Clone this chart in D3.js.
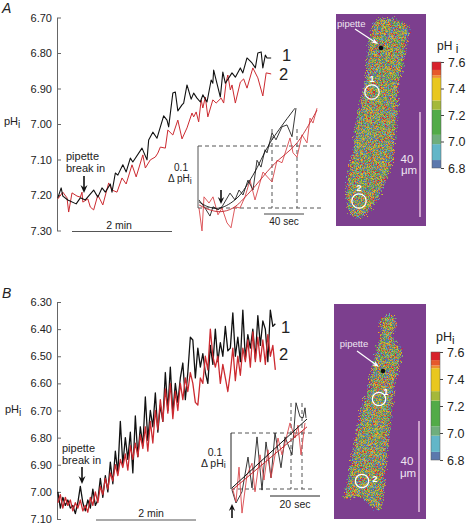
<!DOCTYPE html>
<html><head><meta charset="utf-8">
<script src="https://cdn.jsdelivr.net/npm/d3@7"></script>
<style>html,body{margin:0;padding:0;background:#fff}svg{display:block;font-family:"Liberation Sans",Arial,sans-serif}</style>
</head><body><svg id="c" width="467" height="525"><defs><filter id="soft" x="0" y="0" width="100%" height="100%"><feGaussianBlur stdDeviation="0.45"/></filter></defs></svg>
<script>
// ---------- Panel A data ----------
const ticksA=[6.7,6.8,6.9,7.0,7.1,7.2,7.3];
const ticksB=[6.3,6.4,6.5,6.6,6.7,6.8,6.9,7.0,7.1];
const barTicks=[6.8,7.0,7.2,7.4,7.6];
const tA1=[1,5,7,13,23,28,34,44,49,54,58,64,66,70,73,79,83,88,91,102,108,110,115,120,128,132,134,139,142,145,150,152,156,161,164,168,172,175,180,185,187,188,196,199,202,210,214,220,223,228,234,238,241,245,247,250,252,257];
const phA1=[7.208,7.180,7.203,7.214,7.225,7.208,7.214,7.186,7.206,7.180,7.192,7.169,7.192,7.138,7.144,7.115,7.135,7.096,7.107,7.068,7.101,7.045,7.023,7.040,6.977,6.989,7.008,6.913,6.910,6.963,6.946,6.941,6.890,6.930,6.913,6.927,6.938,6.918,6.938,6.876,6.885,6.848,6.924,6.854,6.885,6.856,6.868,6.842,6.856,6.814,6.828,6.842,6.800,6.797,6.842,6.806,6.814,6.814];
const tA2=[1,7,12,14,18,24,28,30,31,37,40,44,49,55,62,66,72,78,83,90,95,103,106,112,118,121,124,130,133,139,145,150,156,162,164,167,170,173,175,178,181,187,191,197,200,203,205,208,210,214,220,224,228,235,241,247,251,257];
const phA2=[7.211,7.192,7.208,7.248,7.194,7.203,7.206,7.192,7.220,7.211,7.234,7.242,7.200,7.228,7.166,7.186,7.192,7.152,7.169,7.115,7.149,7.087,7.124,7.101,7.093,7.082,7.065,7.068,7.017,7.031,6.989,7.042,7.011,6.969,6.980,6.966,6.994,6.932,6.955,6.924,6.980,6.932,6.941,6.927,6.941,6.882,6.862,6.904,6.890,6.941,6.882,6.873,6.899,6.842,6.870,6.921,6.856,6.859];
const insA1t=[1,7,12,15,20,24,32,37,41,45,50,55,59,63,67,69,74,78,84,89,94,98];
const insA1d=[.013,0,-.013,.002,-.003,.002,.024,.013,.029,.021,.045,.029,.077,.066,.094,.089,.121,.110,.131,.134,.115,.161];
const insA2t=[1,4,6,11,15,20,24,29,33,37,42,47,52,57,65,74,79,84,92,95,99,104,109,112,115,119];
const insA2d=[0,-.037,.018,.008,.018,-.011,0,-.024,-.032,.002,0,.018,.045,.013,.058,.042,.077,.073,.113,.089,.082,.118,.105,.145,.137,.161];
const fitA1t=[1,10,22,39,55,72,97], fitA1d=[.010,.002,0,.016,.053,.105,.161];
const fitA2t=[1,10,22,35,52,75,99,119], fitA2d=[.005,-.002,-.006,0,.026,.069,.105,.158];
// ---------- Panel B data ----------
const sampleB=d3.range(88).map(i=>1+3*i);
const phB1=[7.00,7.06,7.02,7.05,7.03,7.06,7.05,7.08,7.04,6.98,7.04,7.07,7.03,7.06,6.99,7.05,7.03,6.95,7.02,6.94,7.00,6.89,6.97,6.85,6.93,6.74,6.90,6.80,6.88,6.78,6.93,6.72,6.87,6.76,6.83,6.65,6.81,6.70,6.76,6.635,6.78,6.68,6.74,6.56,6.70,6.54,6.71,6.60,6.67,6.58,6.525,6.66,6.56,6.43,6.44,6.58,6.47,6.54,6.49,6.56,6.60,6.46,6.53,6.40,6.52,6.45,6.50,6.39,6.48,6.47,6.34,6.50,6.43,6.52,6.33,6.51,6.42,6.47,6.40,6.51,6.35,6.46,6.37,6.40,6.52,6.33,6.39,6.38];
const phB2=[7.04,7.01,7.06,7.02,7.05,7.03,7.07,7.04,7.06,7.03,7.07,7.05,7.075,7.02,7.05,7.00,7.04,6.98,7.01,6.95,6.99,6.93,6.96,6.90,6.94,6.88,6.91,6.86,6.92,6.83,6.88,6.82,6.87,6.79,6.84,6.76,6.85,6.74,6.82,6.70,6.77,6.66,6.74,6.62,6.71,6.60,6.73,6.63,6.70,6.60,6.66,6.58,6.63,6.56,6.60,6.67,6.68,6.58,6.60,6.50,6.55,6.40,6.50,6.54,6.50,6.60,6.53,6.58,6.63,6.56,6.47,6.59,6.50,6.57,6.47,6.52,6.44,6.54,6.41,6.52,6.43,6.52,6.44,6.53,6.42,6.50,6.46,6.55];
const insB1t=[.4,2,4.4,6.8,8.4,10.4,12.4,14,16,17.6,20,21.6,24.4,26,27.6,28.8,29.6,30];
const insB1d=[-.002,-.025,-.005,.057,.002,.093,-.002,.084,.020,.100,.038,.093,.061,.154,.129,.127,.145,.127];
const insB2t=[.8,2,3.2,4.4,6.4,8.4,9.6,11.6,13.2,14.8,16,18.8,20.4,23.6,25.6,26.8,28,29.6];
const insB2d=[-.002,-.023,.039,-.043,.025,.046,-.005,.061,.016,.070,.020,.091,.061,.118,.091,.114,.061,.118];
const fitB1t=[.4,30.4], fitB1d=[.002,.125];
const fitB2t=[.4,30.4], fitB2d=[-.002,.111];
// ---------- pH colour bar ----------
const bandEdges=[6.86,6.98,7.05,7.24,7.31,7.48,7.50,7.54];
const bandColors=["#5b78ad","#62b6c8","#6fae7c","#52ab48","#a5b83a","#e9c71f","#ee8f2f","#e6592b","#d8222c"];
// cell-image mix: share of pixels in each colour band, estimated by eye
const cellMix=[20,7,9,17,20,10,6,6,5];
// cell outlines in image pixels from the panel corner
const cellA=[[42,4],[57,4],[71,11],[73,19],[69,32],[67,49],[62,69],[61,96],[59,119],[56,146],[49,166],[42,182],[31,199],[21,204],[12,196],[9,179],[12,159],[17,136],[19,112],[24,89],[29,66],[31,46],[32,29],[36,12]];
const cellB=[[46,14],[54,10],[61,14],[61,23],[57,31],[61,39],[68,46],[66,53],[64,63],[59,86],[57,109],[54,136],[51,163],[49,189],[46,206],[39,203],[26,193],[9,193],[14,173],[19,143],[26,109],[34,83],[39,59],[42,43],[47,34],[46,23]];

const svg=d3.select("#c");
const INK="#222", RED="#cc2a30", AXIS="#666";
const zip=(a,b)=>a.map((v,i)=>[v,b[i]]);

function txt(x,y,s,o={}){
  const t=svg.append("text").attr("x",x).attr("y",y).attr("fill",o.fill||INK)
    .attr("font-size",o.size||11).attr("text-anchor",o.anchor||"start").text(s);
  if(o.italic)t.attr("font-style","italic");
  if(o.sub){t.append("tspan").attr("dy",o.subDy||3).attr("font-size",o.subSize||(o.size||11)-1).attr("dx",o.subDx||0).text(o.sub);}
  return t;
}
function arrow(x1,y1,x2,y2,color,w,hl,hw){
  const a=Math.atan2(y2-y1,x2-x1),c=Math.cos(a),s=Math.sin(a);
  svg.append("line").attr("x1",x1).attr("y1",y1).attr("x2",x2-c*hl*.6).attr("y2",y2-s*hl*.6).attr("stroke",color).attr("stroke-width",w);
  svg.append("path").attr("fill",color).attr("d",d3.line()([[x2,y2],[x2-c*hl-s*hw,y2-s*hl+c*hw],[x2-c*hl*.65,y2-s*hl*.65],[x2-c*hl+s*hw,y2-s*hl-c*hw]])+"Z");
}
function trace(data,x,y,color,w,curve){
  svg.append("path").datum(data).attr("fill","none").attr("stroke",color).attr("stroke-width",w).attr("stroke-linejoin","round")
    .attr("d",d3.line().x(d=>x(d[0])).y(d=>y(d[1])).curve(curve||d3.curveLinear));
}
function phAxis(ticks,y,axisX){
  const g=svg.append("g").attr("transform",`translate(${axisX},0)`)
    .call(d3.axisLeft(y).tickValues(ticks).tickFormat(d3.format(".2f")).tickSizeInner(-4).tickSizeOuter(0).tickPadding(5));
  g.selectAll("path,line").attr("stroke",AXIS).attr("stroke-width",1);
  g.selectAll("text").attr("font-size",11).attr("font-family","Liberation Sans").attr("fill",INK);
}
function inset(o){
  const dash="4,3",G="#555";
  const hline=(x1,x2,y)=>svg.append("line").attr("x1",x1).attr("x2",x2).attr("y1",y).attr("y2",y).attr("stroke",G).attr("stroke-dasharray",dash);
  hline(o.x0,o.xEnd,o.y(.1)); hline(o.x0,o.xEnd,o.y(0));
  svg.append("line").attr("x1",o.x0).attr("x2",o.x0).attr("y1",o.y(.1)).attr("y2",o.y(0)).attr("stroke",o.leftColor).attr("stroke-width",1);
  o.vdash.forEach(v=>svg.append("line").attr("x1",v).attr("x2",v).attr("y1",o.vTop).attr("y2",o.y(0)).attr("stroke",G).attr("stroke-dasharray",dash));
}
function cellPanel(o){
  const sx=d3.scaleLinear().domain([0,o.w]).range([o.x,o.x+o.w]);
  const sy=d3.scaleLinear().domain([0,o.h]).range([o.y,o.y+o.h]);
  svg.append("rect").attr("x",o.x).attr("y",o.y).attr("width",o.w).attr("height",o.h).attr("fill","#7c3f8e");
  const hash=(i,j,k)=>{let h=(Math.imul(i+11,73856093)^Math.imul(j+7,19349663)^Math.imul(k,83492791))>>>0;h=Math.imul(h^(h>>>13),1274126177)>>>0;return ((h^(h>>>16))>>>0)/4294967296;};
  const total=d3.sum(cellMix),cum=d3.cumsum(cellMix).map(v=>v/total);
  const pick=d3.scaleThreshold().domain(cum.slice(0,-1)).range(bandColors);
  const cells=[];const s=1;
  for(let i=0;i<o.w/s;i++)for(let j=0;j<o.h/s;j++){
    const px=i*s+(hash(i,j,5)-.5)*5,py=j*s+(hash(i,j,6)-.5)*5;
    if(d3.polygonContains(o.outline,[px,py]))cells.push({i,j,c:pick(hash(i,j,o.seed))});
  }
  const g=svg.append("g").attr("filter","url(#soft)").attr("fill-opacity",.88);
  d3.groups(cells,d=>d.c).forEach(([c,list])=>{
    g.append("path").attr("fill",c).attr("d",list.map(d=>`M${sx(d.i*s)},${sy(d.j*s)}h${s}v${s}h${-s}z`).join(""));
  });
}
function colorBar(o){
  const y=d3.scaleLinear().domain([6.8,7.6]).range([o.y1,o.y0]);
  const edges=[6.8,...bandEdges,7.6];
  bandColors.forEach((c,i)=>svg.append("rect").attr("x",o.x).attr("width",o.w).attr("y",y(edges[i+1])).attr("height",y(edges[i])-y(edges[i+1])).attr("fill",c));
  svg.append("rect").attr("x",o.x).attr("width",o.w).attr("y",o.y0).attr("height",o.y1-o.y0).attr("fill","none").attr("stroke","#555").attr("stroke-width",.5);
  const g=svg.append("g").attr("transform",`translate(${o.x+o.w},0)`)
    .call(d3.axisRight(y).tickValues(barTicks).tickFormat(d3.format(".1f")).tickSize(3).tickPadding(4));
  g.select("path").remove();
  g.selectAll("line").attr("stroke","#444");
  g.selectAll("text").attr("font-size",12.5).attr("font-family","Liberation Sans").attr("fill",INK);
}
const CW="#efe6f2";
// ================ PANEL A ================
txt(2,13,"A",{size:14,italic:true});
const xA=d3.scaleLinear().domain([0,120]).range([57,157]);
const yA=d3.scaleLinear().domain([6.7,7.3]).range([17.5,230.5]);
phAxis(ticksA,yA,57);
txt(4,125,"pH",{size:11,sub:"i"});
trace(zip(tA2,phA2),xA,yA,RED,1);
trace(zip(tA1,phA1),xA,yA,"#111",1.1);
txt(282,61,"1",{size:16.5});txt(279,80,"2",{size:16.5});
txt(66,160,"pipette",{size:11});txt(66,172,"break in",{size:11});
arrow(84,176,84,193,"#111",1.6,8,3.5);
svg.append("line").attr("x1",72).attr("x2",172).attr("y1",231.5).attr("y2",231.5).attr("stroke","#555");
txt(119,229,"2 min",{size:10.5,anchor:"middle"});
// inset A
const ixA=d3.scaleLinear().domain([0,40]).range([198,238]);
const iyA=d3.scaleLinear().domain([0,.1]).range([208,146]);
inset({x0:198,xEnd:322,y:iyA,vdash:[272,297],vTop:129,leftColor:"#555"});
trace(zip(insA2t,insA2d),ixA,iyA,"#d9474c",.9);
trace(zip(insA1t,insA1d),ixA,iyA,"#222",.9);
trace(zip(fitA2t,fitA2d),ixA,iyA,"#c2262c",.9,d3.curveCatmullRom);
trace(zip(fitA1t,fitA1d),ixA,iyA,"#111",.9,d3.curveCatmullRom);
arrow(221,190,221,204,"#111",1.6,7,3.2);
txt(181,171,"0.1",{size:10,anchor:"middle"});
txt(168,182,"Δ pH",{size:10,sub:"i",subSize:9,subDy:2});
svg.append("line").attr("x1",264).attr("x2",304).attr("y1",214).attr("y2",214).attr("stroke","#444");
txt(284,225,"40 sec",{size:10,anchor:"middle"});
// cell A
cellPanel({x:336,y:14,w:90,h:212,outline:cellA,seed:3});
svg.append("circle").attr("cx",381).attr("cy",48).attr("r",2.3).attr("fill","#111");
txt(337,27,"pipette",{size:9.5,fill:CW});
arrow(355,29,378,44,"#fff",1.2,7,2.6);
svg.append("circle").attr("cx",372).attr("cy",92).attr("r",7.2).attr("fill","none").attr("stroke","#fff").attr("stroke-width",1.2);
svg.append("circle").attr("cx",359).attr("cy",201).attr("r",7.2).attr("fill","none").attr("stroke","#fff").attr("stroke-width",1.2);
txt(372,82,"1",{size:9.5,fill:"#fff",anchor:"middle"}).attr("font-weight","bold");
txt(359,191,"2",{size:9.5,fill:"#fff",anchor:"middle"}).attr("font-weight","bold");
svg.append("line").attr("x1",420).attr("x2",420).attr("y1",112).attr("y2",217).attr("stroke","#eccbe6").attr("stroke-width",1.4);
txt(407,163,"40",{size:11.5,fill:CW,anchor:"middle"});
txt(409,174,"μm",{size:11.5,fill:CW,anchor:"middle"});
colorBar({x:432,w:9,y0:62,y1:168});
txt(437,50,"pH",{size:12,sub:" i",subDy:3,subSize:12});
// ================ PANEL B ================
txt(2,298,"B",{size:14,italic:true});
const xB=d3.scaleLinear().domain([0,120]).range([57,157]);
const yB=d3.scaleLinear().domain([6.3,7.1]).range([302,519]);
phAxis(ticksB,yB,57);
txt(5,413,"pH",{size:11,sub:"i"});
trace(zip(sampleB,phB1),xB,yB,"#111",1.3);
trace(zip(sampleB,phB2),xB,yB,RED,1.3);
txt(281,333,"1",{size:16.5});txt(279,360,"2",{size:16.5});
txt(62,452,"pipette",{size:11});txt(62,464,"break in",{size:11});
arrow(82,467,82,484,"#111",1.6,8,3.5);
svg.append("line").attr("x1",96).attr("x2",196).attr("y1",520).attr("y2",520).attr("stroke","#555");
txt(151,517,"2 min",{size:10.5,anchor:"middle"});
// inset B
const ixB=d3.scaleLinear().domain([0,20]).range([231,281]);
const iyB=d3.scaleLinear().domain([0,.1]).range([489,433]);
inset({x0:231,xEnd:312,y:iyB,vdash:[291,302],vTop:403,leftColor:"#222"});
trace(zip(insB1t,insB1d),ixB,iyB,"#222",.9);
trace(zip(insB2t,insB2d),ixB,iyB,"#d9474c",.9);
trace(zip(fitB1t,fitB1d),ixB,iyB,"#111",1);
trace(zip(fitB2t,fitB2d),ixB,iyB,"#c2262c",1);
arrow(232,518,232,504,"#111",1.6,7,3.2);
txt(215,456,"0.1",{size:10.5,anchor:"middle"});
txt(201,467,"Δ pH",{size:10.5,sub:"i",subSize:9,subDy:1});
svg.append("line").attr("x1",270).attr("x2",320).attr("y1",496).attr("y2",496).attr("stroke","#222");
txt(295,508,"20 sec",{size:10.5,anchor:"middle"});
// cell B
cellPanel({x:334,y:304,w:92,h:215,outline:cellB,seed:9});
svg.append("circle").attr("cx",383).attr("cy",371).attr("r",2.3).attr("fill","#111");
txt(354,347,"pipette",{size:9.5,fill:CW,anchor:"middle"});
arrow(357,351,379,367,"#fff",1.2,7,2.6);
svg.append("circle").attr("cx",379).attr("cy",399).attr("r",6.7).attr("fill","none").attr("stroke","#fff").attr("stroke-width",1.2);
svg.append("circle").attr("cx",362).attr("cy",481).attr("r",6.7).attr("fill","none").attr("stroke","#fff").attr("stroke-width",1.2);
txt(386,395,"1",{size:9.5,fill:"#fff",anchor:"middle"}).attr("font-weight","bold");
txt(375,482,"2",{size:9.5,fill:"#fff",anchor:"middle"}).attr("font-weight","bold");
svg.append("line").attr("x1",419).attr("x2",419).attr("y1",421).attr("y2",512).attr("stroke","#eccbe6").attr("stroke-width",1.4);
txt(407,465,"40",{size:11.5,fill:CW,anchor:"middle"});
txt(408,477,"μm",{size:11.5,fill:CW,anchor:"middle"});
colorBar({x:431,w:9,y0:352,y1:460});
txt(436,341,"pH",{size:12.5,sub:"i",subDy:3,subSize:11.5});
</script></body></html>
